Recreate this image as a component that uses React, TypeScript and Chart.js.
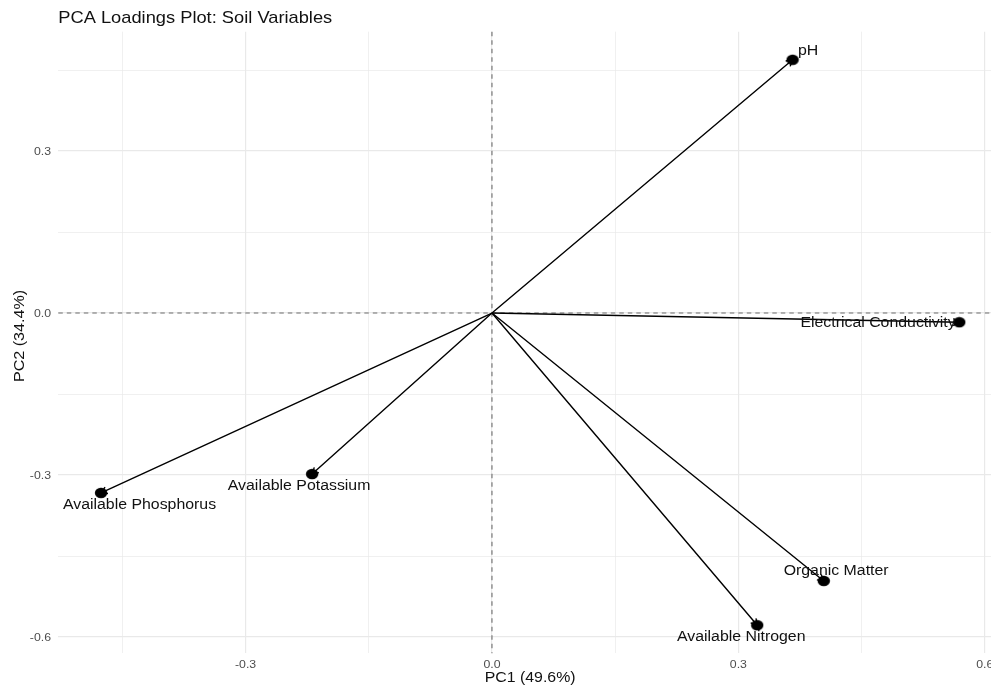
import { useEffect, useRef } from "react";
import { Chart, registerables } from "chart.js";

Chart.register(...registerables);

// ---- data ----
const variables = [
  "pH",
  "Electrical Conductivity",
  "Organic Matter",
  "Available Nitrogen",
  "Available Potassium",
  "Available Phosphorus",
];
const pc1 = [0.366, 0.569, 0.404, 0.323, -0.219, -0.476];
const pc2 = [0.469, -0.017, -0.496, -0.578, -0.298, -0.333];
// label anchor positions (data units, text centre)
const labelPc1 = [0.385, 0.47, 0.419, 0.3035, -0.2348, -0.4291];
const labelPc2 = [0.487, -0.0174, -0.4767, -0.598, -0.3176, -0.3533];

const xRange = [-0.528, 0.621];
const yRange = [-0.63, 0.521];
const majorBreaks = [-0.6, -0.3, 0, 0.3, 0.6];
const minorBreaks = [-0.45, -0.15, 0.15, 0.45];
const xTickValues = [-0.3, 0, 0.3, 0.6];
const xTickLabels = ["-0.3", "0.0", "0.3", "0.6"];
const yTickValues = [-0.6, -0.3, 0, 0.3];
const yTickLabels = ["-0.6", "-0.3", "0.0", "0.3"];

const titleText = "PCA Loadings Plot: Soil Variables";
const xTitle = "PC1 (49.6%)";
const yTitle = "PC2 (34.4%)";

const FONT = '"Liberation Sans", Arial, Helvetica, sans-serif';
const SX = 1.15;

function drawText(
  ctx: CanvasRenderingContext2D,
  text: string,
  x: number,
  y: number,
  size: number,
  align: CanvasTextAlign,
  color: string,
  rotate = 0
) {
  ctx.save();
  ctx.translate(x, y);
  if (rotate) ctx.rotate(rotate);
  ctx.scale(SX, 1);
  ctx.font = `${size}px ${FONT}`;
  ctx.fillStyle = color;
  ctx.textAlign = align;
  ctx.textBaseline = "alphabetic";
  ctx.fillText(text, 0, 0);
  ctx.restore();
}

const isMajor = (v: number) => Math.abs(v / 0.3 - Math.round(v / 0.3)) < 1e-6;

function makeDot(): HTMLCanvasElement {
  const c = document.createElement("canvas");
  c.width = 14;
  c.height = 12;
  const g = c.getContext("2d")!;
  g.fillStyle = "#000";
  g.beginPath();
  g.ellipse(7, 6, 6.2, 5.2, 0, 0, Math.PI * 2);
  g.fill();
  return c;
}

const decorPlugin = {
  id: "decor",
  beforeDatasetsDraw(chart: any) {
    const { ctx, chartArea: a, scales } = chart;
    const xs = scales.x;
    const ys = scales.y;
    const x0 = xs.getPixelForValue(0);
    const y0 = ys.getPixelForValue(0);
    ctx.save();
    // dashed reference lines
    ctx.strokeStyle = "#6e6e6e";
    ctx.lineWidth = 1.1;
    ctx.setLineDash([4.5, 4]);
    ctx.beginPath();
    ctx.moveTo(a.left, y0);
    ctx.lineTo(a.right, y0);
    ctx.moveTo(x0, a.top);
    ctx.lineTo(x0, a.bottom);
    ctx.stroke();
    ctx.setLineDash([]);
    // arrows
    ctx.strokeStyle = "#000";
    ctx.lineWidth = 1.4;
    const L = 7;
    for (let i = 0; i < pc1.length; i++) {
      const x1 = xs.getPixelForValue(pc1[i]);
      const y1 = ys.getPixelForValue(pc2[i]);
      const ang = Math.atan2(y1 - y0, x1 - x0);
      ctx.beginPath();
      ctx.moveTo(x0, y0);
      ctx.lineTo(x1, y1);
      ctx.moveTo(x1 - L * Math.cos(ang - Math.PI / 6), y1 - L * Math.sin(ang - Math.PI / 6));
      ctx.lineTo(x1, y1);
      ctx.lineTo(x1 - L * Math.cos(ang + Math.PI / 6), y1 - L * Math.sin(ang + Math.PI / 6));
      ctx.stroke();
    }
    ctx.restore();
  },
  afterDatasetsDraw(chart: any) {
    const { ctx, chartArea: a, scales } = chart;
    const xs = scales.x;
    const ys = scales.y;
    // point labels
    const ls = 13.8;
    for (let i = 0; i < variables.length; i++) {
      const lx = xs.getPixelForValue(labelPc1[i]);
      const ly = ys.getPixelForValue(labelPc2[i]);
      drawText(ctx, variables[i], lx, ly + 0.358 * ls, ls, "center", "#111");
    }
    // tick labels
    const ts = 10.7;
    xTickValues.forEach((v, i) => {
      drawText(ctx, xTickLabels[i], xs.getPixelForValue(v), a.bottom + 14.5, ts, "center", "#4d4d4d");
    });
    yTickValues.forEach((v, i) => {
      drawText(ctx, yTickLabels[i], a.left - 7.3, ys.getPixelForValue(v) + 3.85, ts, "right", "#4d4d4d");
    });
    // axis titles
    drawText(ctx, xTitle, (a.left + a.right) / 2, a.bottom + 28.4, 13.8, "center", "#111");
    drawText(ctx, yTitle, 24, 336, 14, "center", "#111", -Math.PI / 2);
    // plot title
    drawText(ctx, titleText, a.left, 22.7, 15.9, "left", "#111");
  },
};

export default function App() {
  const ref = useRef<HTMLCanvasElement>(null);

  useEffect(() => {
    if (!ref.current) return;
    document.body.style.overflow = "hidden";
    const gridOpts = {
      color: "#e9e9e9",
      lineWidth: (c: any) => (c.tick && isMajor(c.tick.value) ? 1.2 : 0.7),
      drawTicks: false,
    };
    const buildTicks = (axis: any) => {
      axis.ticks = [...majorBreaks, ...minorBreaks]
        .filter((v) => v >= axis.min && v <= axis.max)
        .sort((p, q) => p - q)
        .map((v) => ({ value: v }));
    };
    const dot = makeDot();
    const chart = new Chart(ref.current, {
      type: "scatter",
      data: {
        datasets: [
          {
            label: "Loadings",
            data: pc1.map((x, i) => ({ x, y: pc2[i] })),
            backgroundColor: "#000",
            borderWidth: 0,
            pointStyle: dot as any,
            pointRadius: 6,
            pointHoverRadius: 6,
          },
        ],
      },
      options: {
        responsive: false,
        animation: false,
        events: [],
        layout: { padding: { left: 58.3, top: 31.7, right: 6, bottom: 31.7 } },
        plugins: { legend: { display: false }, tooltip: { enabled: false }, title: { display: false } },
        scales: {
          x: {
            type: "linear",
            position: "bottom",
            min: xRange[0],
            max: xRange[1],
            grid: gridOpts as any,
            border: { display: false },
            ticks: { display: false },
            afterBuildTicks: buildTicks,
          },
          y: {
            type: "linear",
            position: "left",
            min: yRange[0],
            max: yRange[1],
            grid: gridOpts as any,
            border: { display: false },
            ticks: { display: false },
            afterBuildTicks: buildTicks,
          },
        },
      },
      plugins: [decorPlugin],
    });
    return () => chart.destroy();
  }, []);

  return (
    <div
      style={{
        position: "fixed",
        left: 0,
        top: 0,
        width: 991,
        height: 685,
        overflow: "hidden",
        background: "#fff",
      }}
    >
      <div style={{ width: 1008, height: 685 }}>
        <canvas ref={ref} width={1008} height={685} style={{ display: "block" }} />
      </div>
    </div>
  );
}
